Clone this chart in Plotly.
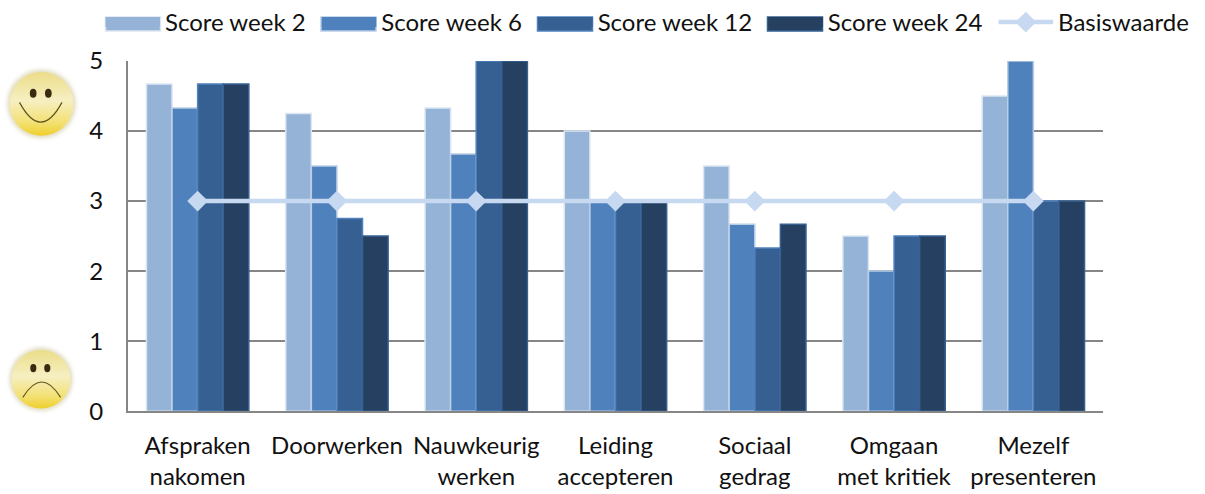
import base64
import plotly.graph_objects as go

categories = ["Afspraken<br>nakomen", "Doorwerken", "Nauwkeurig<br>werken", "Leiding<br>accepteren",
              "Sociaal<br>gedrag", "Omgaan<br>met kritiek", "Mezelf<br>presenteren"]
week2 = [4.67, 4.25, 4.33, 4.0, 3.5, 2.5, 4.5]
week6 = [4.33, 3.5, 3.67, 3.0, 2.67, 2.0, 5.0]
week12 = [4.67, 2.75, 5.0, 3.0, 2.33, 2.5, 3.0]
week24 = [4.67, 2.5, 5.0, 3.0, 2.67, 2.5, 3.0]
basis = [3, 3, 3, 3, 3, 3, 3]
names = ["Score week 2", "Score week 6", "Score week 12", "Score week 24"]
colors = ["#95B3D7", "#4F81BD", "#376092", "#254061"]
borders = ["#DCE6F2", "#B9CDE5", "#4F81BD", "#376092"]
swatch_left = [105.5, 321, 537.5, 767.5]
FONT = "Lato"
W, H, TOP = 1205, 494, 44


def px_x(p):
    return p / W


def px_y(p):
    return (H - p) / (H - TOP)


def face(happy):
    mouth = "M10.5 24 Q24.5 50 38.5 24" if happy else "M12 38 Q25.5 16 39 38"
    svg = f'''<svg xmlns="http://www.w3.org/2000/svg" viewBox="0 0 50 50" width="200" height="200">
<defs><linearGradient id="g" x1="0" y1="0" x2="0" y2="1"><stop offset="0%" stop-color="#EBDD88"/>
<stop offset="45%" stop-color="#F6EFC2"/><stop offset="80%" stop-color="#F3E071"/>
<stop offset="100%" stop-color="#EFCF2A"/></linearGradient>
<filter id="b"><feGaussianBlur stdDeviation="1.5"/></filter></defs>
<circle cx="25" cy="25" r="22.5" fill="#B9AE6A" opacity="0.45" filter="url(#b)"/>
<circle cx="25" cy="25" r="21" fill="url(#g)"/>
<ellipse cx="19.5" cy="{18 if happy else 17}" rx="2.2" ry="3" fill="#3A2A10"/>
<ellipse cx="29.5" cy="{18 if happy else 17}" rx="2.2" ry="3" fill="#3A2A10"/>
<path d="{mouth}" fill="none" stroke="#5E5420" stroke-width="0.8"/></svg>'''
    return "data:image/svg+xml;base64," + base64.b64encode(svg.encode()).decode()


fig = go.Figure()
series = [week2, week6, week12, week24]
for name, vals, col, bord in zip(names, series, colors, borders):
    fig.add_trace(go.Bar(name=name, x=categories, y=vals, marker=dict(color=col, line=dict(color=bord, width=1.5)),
                         showlegend=False))
    fig.add_trace(go.Scatter(name=name + "\u00a0", x=[None], y=[None], mode="lines",
                             line=dict(color=col, width=14)))
fig.add_trace(go.Scatter(name="Basiswaarde", x=categories, y=basis, mode="lines+markers",
                         line=dict(color="#C6D9F1", width=4.5),
                         marker=dict(symbol="diamond", size=16, color="#C6D9F1")))

# thicker keys behind the legend's own swatches
swatches = [dict(type="rect", xref="paper", yref="paper", x0=px_x(x), x1=px_x(x + 55), y0=px_y(30), y1=px_y(16),
                 fillcolor=col, line=dict(color=bord, width=1.5), layer="above")
            for x, col, bord in zip(swatch_left, colors, borders)]

fig.update_layout(
    width=W, height=H, autosize=False,
    margin=dict(l=0, r=0, t=TOP, b=0, pad=0),
    paper_bgcolor="white", plot_bgcolor="white",
    barmode="group", bargap=0.265, bargroupgap=0,
    font=dict(family=FONT, size=24, color="#111111"),
    legend=dict(orientation="h", x=100.5 / W, xanchor="left", xref="container", y=1.0, yanchor="top", yref="container",
                itemwidth=54.5, font=dict(size=24), traceorder="normal", itemclick=False, tracegroupgap=0,
                bgcolor="rgba(0,0,0,0)"),
    shapes=swatches,
    images=[
        dict(source=face(True), xref="paper", yref="paper", x=px_x(3.5), y=px_y(65), sizex=76 / W, sizey=76 / (H - TOP),
             sizing="contain", xanchor="left", yanchor="top", layer="above"),
        dict(source=face(False), xref="paper", yref="paper", x=px_x(6), y=px_y(344), sizex=70 / W, sizey=70 / (H - TOP),
             sizing="contain", xanchor="left", yanchor="top", layer="above"),
    ],
)
fig.update_xaxes(domain=[px_x(128), px_x(1103)], showgrid=False, showline=True, linecolor="#868686", linewidth=2,
                 ticks="outside", automargin=False, tickcolor="rgba(0,0,0,0)", ticklen=12,
                 tickfont=dict(size=24, family=FONT))
fig.update_yaxes(domain=[px_y(411), px_y(60)], range=[0, 5], dtick=1, showgrid=True, gridcolor="#868686", gridwidth=2,
                 showline=True, automargin=False, linecolor="#868686", linewidth=2, ticks="outside",
                 tickcolor="rgba(0,0,0,0)", ticklen=18, zeroline=False, tickfont=dict(size=24, family=FONT))
fig.write_html("out.html", post_script="document.body.style.margin='0';", config=dict(displayModeBar=False))
